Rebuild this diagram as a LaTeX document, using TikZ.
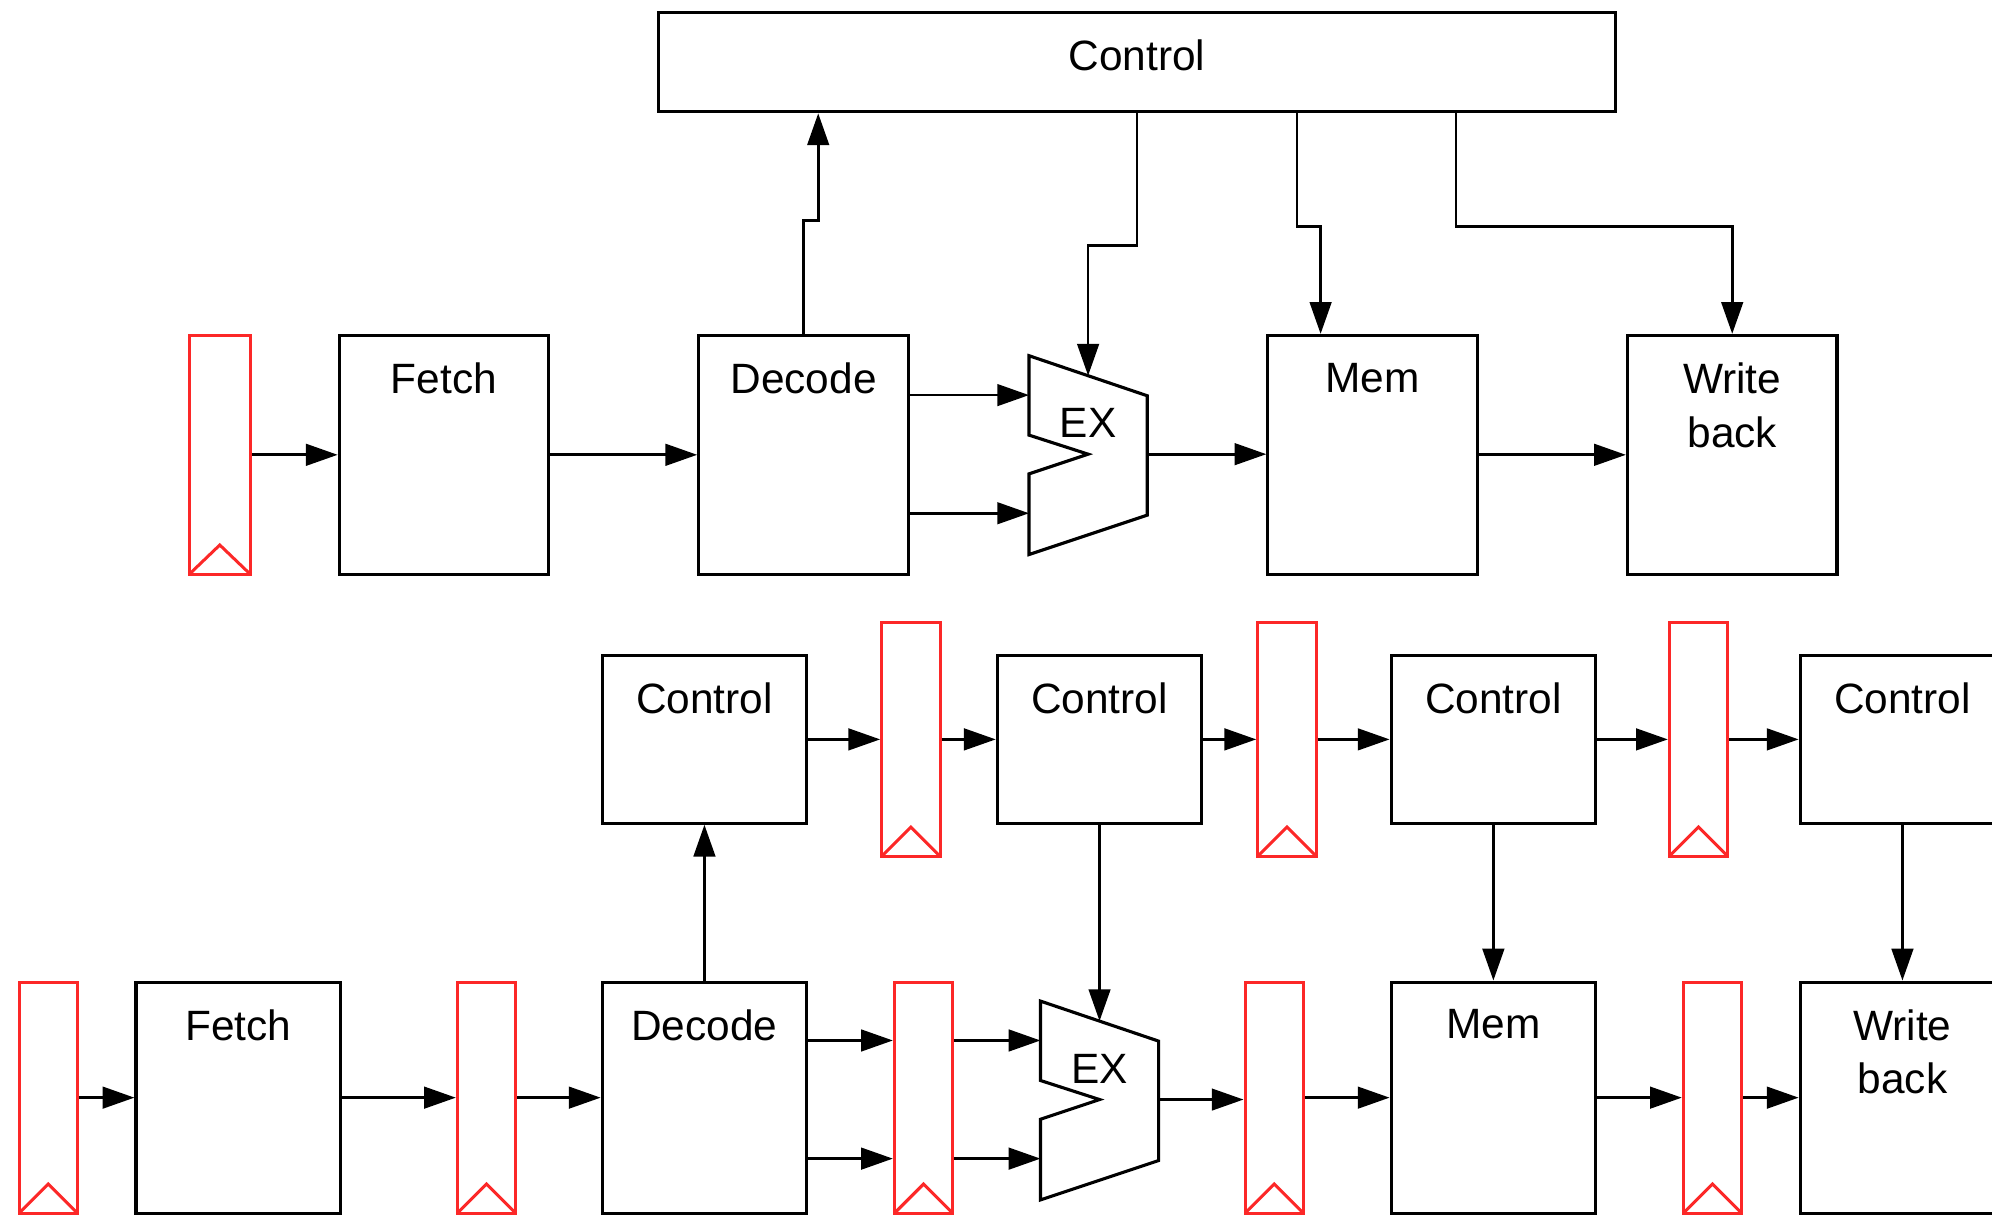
\documentclass[tikz,border=0pt]{standalone}
\usepackage{fontspec}
\setmainfont{Liberation Sans}
\usetikzlibrary{arrows.meta}
\definecolor{regred}{RGB}{252,40,40}
\tikzset{
  stage/.style={draw, line width=1.4pt, inner sep=0pt, minimum width=3.3cm, minimum height=3.76cm},
  ctl/.style={stage, minimum width=3.22cm, minimum height=2.64cm},
  low/.style={stage, minimum width=3.22cm, minimum height=3.64cm},
  title/.style={label={[anchor=north, inner sep=0pt, yshift=-0.45cm, align=center]north:#1}},
  reg/.style={draw=regred, line width=1.35pt, inner sep=0pt, minimum width=0.92cm, minimum height=#1,
    path picture={\draw[regred, line width=1.35pt] (path picture bounding box.south west)
      -- ([yshift=0.46cm]path picture bounding box.south) -- (path picture bounding box.south east);}},
  wire/.style={line width=1.2pt, -{Triangle[length=0.5cm, width=0.34cm]}},
  alu/.pic={
    \draw[line width=1.4pt] (0,0) -- (93,31.5) -- (93,125.5) -- (0,156.5) -- (0,93)
      -- (46.5,77.5) -- (0,62.5) -- cycle;
    \node (-lbl) at (46.5,53) {EX};
    \coordinate (-in1) at (0,31);
    \coordinate (-in2) at (0,124);
    \coordinate (-out) at (93,77.5);
    \coordinate (-top) at (46.5,15.7);
  }
}
\begin{document}
\begin{tikzpicture}[x=0.02cm, y=-0.02cm, font=\fontsize{19}{24}\selectfont]
    \useasboundingbox (0,0) rectangle (1568,957);
    \clip (0,0) rectangle (1568,957);
    % single control unit
    \node [stage, minimum width=15.08cm, minimum height=1.56cm, title=Control] (ctrl) at (895,49) {};
    \node [reg=3.76cm, minimum width=0.96cm] (r0) at (173,358) {};
    \node [stage, title=Fetch] (fetch) at (349.5,358) {};
    \node [stage, title=Decode] (decode) at (632.5,358) {};
    \pic (ex) at (810,280) {alu};
    \node [stage, title=Mem] (mem) at (1080.5,358) {};
    \node [stage, title={Write\\back}] (wb) at (1363.5,358) {};
    \draw [wire] (r0) -- (fetch);
    \draw [wire] (fetch) -- (decode);
    \draw [wire] (decode.east |- ex-in1) -- (ex-in1);
    \draw [wire] (decode.east |- ex-in2) -- (ex-in2);
    \draw [wire] (ex-out) -- (ex-out -| mem.west);
    \draw [wire] (mem) -- (wb);
    \draw [wire] (decode.north) -- ++(0,-89) -| ([xshift=-5.02cm]ctrl.south);
    \draw [wire] (ctrl.south) -- ++(0,104) -| (ex-top);
    \draw [wire] ([xshift=2.52cm]ctrl.south) -- ++(0,89) -| ([xshift=-0.82cm]mem.north);
    \draw [wire] ([xshift=5.02cm]ctrl.south) -- ++(0,89) -| (wb.north);
    % pipelined control
    \node [ctl, title=Control] (c1) at (554.5,582) {};
    \node [reg=3.68cm] (a1) at (717,582) {};
    \node [ctl, title=Control] (c2) at (865.5,582) {};
    \node [reg=3.68cm] (a2) at (1013,582) {};
    \node [ctl, title=Control] (c3) at (1175.5,582) {};
    \node [reg=3.68cm] (a3) at (1337,582) {};
    \node [ctl, title=Control] (c4) at (1497.5,582) {};
    \node [reg=3.64cm] (b0) at (38,864) {};
    \node [low, title=Fetch] (f2) at (187.5,864) {};
    \node [reg=3.64cm] (b1) at (383,864) {};
    \node [low, title=Decode] (d2) at (554.5,864) {};
    \node [reg=3.64cm] (b2) at (727,864) {};
    \pic (ex2) at (819,788) {alu};
    \node [reg=3.64cm] (b3) at (1003,864) {};
    \node [low, title=Mem] (m2) at (1175.5,864) {};
    \node [reg=3.64cm] (b4) at (1348,864) {};
    \node [low, title={Write\\back}] (w2) at (1497.5,864) {};
    \draw [wire] (c1) -- (a1);
    \draw [wire] (a1) -- (c2);
    \draw [wire] (c2) -- (a2);
    \draw [wire] (a2) -- (c3);
    \draw [wire] (c3) -- (a3);
    \draw [wire] (a3) -- (c4);
    \draw [wire] (d2) -- (c1);
    \draw [wire] (c2) -- (ex2-top);
    \draw [wire] (c3) -- (m2);
    \draw [wire] (c4) -- (w2);
    \draw [wire] (b0) -- (f2);
    \draw [wire] (f2) -- (b1);
    \draw [wire] (b1) -- (d2);
    \draw [wire] (d2.east |- ex2-in1) -- (b2.west |- ex2-in1);
    \draw [wire] (d2.east |- ex2-in2) -- (b2.west |- ex2-in2);
    \draw [wire] (b2.east |- ex2-in1) -- (ex2-in1);
    \draw [wire] (b2.east |- ex2-in2) -- (ex2-in2);
    \draw [wire] (ex2-out) -- (ex2-out -| b3.west);
    \draw [wire] (b3) -- (m2);
    \draw [wire] (m2) -- (b4);
    \draw [wire] (b4) -- (w2);
\end{tikzpicture}
\end{document}
